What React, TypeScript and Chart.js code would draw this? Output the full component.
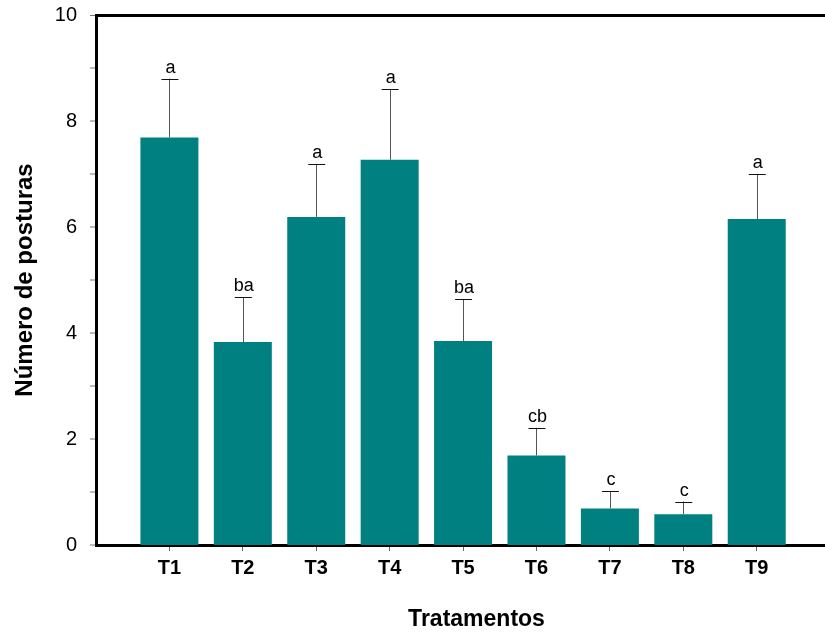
import React, { useEffect, useRef } from "react";
import { Chart, registerables } from "chart.js";

Chart.register(...registerables);

const categories = ["T1", "T2", "T3", "T4", "T5", "T6", "T7", "T8", "T9"];
const means = [7.69, 3.83, 6.19, 7.27, 3.85, 1.69, 0.69, 0.58, 6.15];
const errorTops = [8.8, 4.68, 7.18, 8.6, 4.64, 2.21, 1.01, 0.82, 7.0];
const groupLetters = ["a", "ba", "a", "a", "ba", "cb", "c", "c", "a"];
const yTickLabels = ["0", "2", "4", "6", "8", "10"];
const xTitle = "Tratamentos";

const FONT = "'Liberation Sans', Arial, sans-serif";

const errorBarPlugin = {
  id: "errorBars",
  afterDatasetsDraw(chart: any) {
    const { ctx, chartArea } = chart;
    const xs = chart.scales.x;
    const ys = chart.scales.y;
    ctx.save();
    categories.forEach((_, i) => {
      const x = xs.getPixelForValue(i + 1);
      const yb = ys.getPixelForValue(means[i]);
      const yt = ys.getPixelForValue(errorTops[i]);
      ctx.strokeStyle = "#555555";
      ctx.lineWidth = 1;
      ctx.beginPath();
      ctx.moveTo(Math.round(x) + 0.5, yb);
      ctx.lineTo(Math.round(x) + 0.5, yt);
      ctx.stroke();
      ctx.strokeStyle = "#111111";
      ctx.beginPath();
      ctx.moveTo(x - 8, Math.round(yt) + 0.5);
      ctx.lineTo(x + 9, Math.round(yt) + 0.5);
      ctx.stroke();
      ctx.fillStyle = "#000000";
      ctx.font = `18px ${FONT}`;
      ctx.textAlign = "center";
      ctx.textBaseline = "alphabetic";
      ctx.fillText(groupLetters[i], x + 1, yt - 6);
    });
    // x-axis title
    ctx.font = `bold 23px ${FONT}`;
    ctx.textAlign = "center";
    ctx.textBaseline = "alphabetic";
    ctx.fillText(xTitle, (chartArea.left + chartArea.right) / 2 + 16, 626);
    ctx.restore();
  },
};

export default function App() {
  const ref = useRef<HTMLCanvasElement>(null);
  useEffect(() => {
    document.body.style.margin = "0";
    const canvas = ref.current!;
    const chart = new Chart(canvas, {
      type: "bar",
      data: {
        datasets: [
          {
            data: means.map((v, i) => ({ x: i + 1, y: v })),
            backgroundColor: "#008080",
            borderWidth: 0,
            categoryPercentage: 1,
            barPercentage: 0.79,
          },
        ],
      },
      options: {
        animation: false,
        responsive: false,
        maintainAspectRatio: false,
        layout: { padding: { top: 15, right: 0, left: 0, bottom: 0 } },
        plugins: { legend: { display: false }, tooltip: { enabled: false } },
        scales: {
          x: {
            type: "linear",
            offset: false,
            min: 0,
            max: 9.93,
            afterBuildTicks(scale: any) {
              scale.ticks = categories.map((_, i) => ({ value: i + 1 }));
            },
            afterFit(scale: any) {
              scale.height = 88;
              scale.paddingLeft = 0;
              scale.paddingRight = 0;
            },
            ticks: {
              autoSkip: false,
              maxRotation: 0,
              padding: 5,
              color: "#000",
              font: { family: FONT, size: 20, weight: "bold" },
              callback: (v: any) => categories[Math.round(v) - 1] ?? "",
            },
            grid: {
              offset: false,
              drawOnChartArea: false,
              drawTicks: true,
              tickLength: 6,
              color: "#666",
              lineWidth: 1,
            },
            border: { display: true, color: "#000", width: 3 },
            title: { display: false },
          },
          y: {
            min: 0,
            max: 10,
            afterBuildTicks(scale: any) {
              const t = [];
              for (let v = 0; v <= 10; v++) t.push({ value: v });
              scale.ticks = t;
            },
            afterFit(scale: any) {
              scale.width = 96;
              scale.paddingTop = 0;
              scale.paddingBottom = 0;
            },
            ticks: {
              autoSkip: false,
              padding: 13,
              color: "#000",
              font: { family: FONT, size: 20 },
              callback: (v: any) => (v % 2 === 0 ? yTickLabels[v / 2] : ""),
            },
            grid: {
              drawOnChartArea: true,
              drawTicks: true,
              tickLength: 6,
              color: (c: any) => (c.tick && c.tick.value === 10 ? "#000" : "#777"),
              lineWidth: (c: any) => (c.tick && c.tick.value === 10 ? 3 : 0),
              tickColor: "#777",
              tickWidth: 1,
            },
            border: { display: true, color: "#000", width: 3 },
            title: {
              display: true,
              text: "Número de posturas",
              color: "#000",
              font: { family: FONT, size: 24, weight: "bold" },
              padding: { top: 11, bottom: 0 },
            },
          },
        },
      },
      plugins: [errorBarPlugin],
    });
    return () => chart.destroy();
  }, []);
  return <canvas ref={ref} width={825} height={633} style={{ display: "block" }} />;
}
